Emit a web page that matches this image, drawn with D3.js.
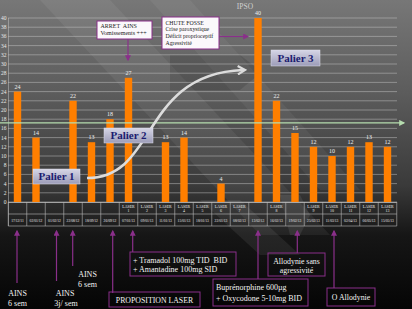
<!DOCTYPE html>
<html><head><meta charset="utf-8">
<script src="https://cdn.jsdelivr.net/npm/d3@7"></script>
<style>html,body{margin:0;padding:0;background:#000;}svg{display:block;}text{white-space:pre;}</style>
</head><body>
<svg id="c" width="412" height="309"></svg>
<script>
// ---- data ----
const dates = ["17/12/11","02/01/12","01/02/12","22/08/12","18/09/12","26/09/12","07/01/13","09/01/13","11/01/13","15/01/13","18/01/13","22/01/13","08/02/13","13/02/13","16/02/13","19/02/13","25/02/13","11/03/13","02/04/13","06/05/13","15/05/13"];
const laserNums = ["","","","","","","1","2","3","4","5","6","7","","8","","9","10","11","12","13"];
const values = [24,14,null,22,13,18,27,null,13,14,null,4,null,40,22,15,12,10,12,13,12];
const yTicks = d3.range(0,41,2);
const threshold = 17.2;
const title = "IPSO";
const paliers = ["Palier 1","Palier 2","Palier 3"];

const svg = d3.select("#c");
const W=412,H=309;
const defs = svg.append("defs");
const bg = defs.append("linearGradient").attr("id","bg").attr("x1",0).attr("y1",0).attr("x2",0).attr("y2",1);
[[0,"#777777"],[0.3,"#5c5c5c"],[0.6,"#3a3a3a"],[0.76,"#161616"],[1,"#050505"]].forEach(s=>bg.append("stop").attr("offset",s[0]).attr("stop-color",s[1]));
const pg = defs.append("linearGradient").attr("id","pal").attr("x1",0).attr("y1",0).attr("x2",0).attr("y2",1);
[[0,"#d6d6e6"],[1,"#9c9cb8"]].forEach(s=>pg.append("stop").attr("offset",s[0]).attr("stop-color",s[1]));
defs.append("marker").attr("id","ap").attr("viewBox","0 0 10 10").attr("refX",8).attr("refY",5)
  .attr("markerWidth",5).attr("markerHeight",5).attr("orient","auto-start-reverse")
  .append("path").attr("d","M0,0L10,5L0,10z").attr("fill","#8a2f8a");
defs.append("marker").attr("id","ag").attr("viewBox","0 0 10 10").attr("refX",8).attr("refY",5)
  .attr("markerWidth",5).attr("markerHeight",5).attr("orient","auto")
  .append("path").attr("d","M0,0L10,5L0,10z").attr("fill","#b5dcae");
defs.append("marker").attr("id","aw").attr("viewBox","0 0 10 10").attr("refX",6).attr("refY",5)
  .attr("markerWidth",4).attr("markerHeight",4).attr("orient","auto")
  .append("path").attr("d","M1,1L8,5L1,9").attr("fill","none").attr("stroke","#dcdcdc").attr("stroke-width",2.2);

svg.append("rect").attr("width",W).attr("height",H).attr("fill","url(#bg)");
// diagonal decorative bands
const deco = svg.append("g");
deco.append("path").attr("d","M40,0L110,0L330,235L260,235Z").attr("fill","#fff").attr("opacity",0.06);
deco.append("path").attr("d","M150,0L190,0L360,190L320,190Z").attr("fill","#fff").attr("opacity",0.05);
deco.append("path").attr("d","M170,55L240,55L262,72L240,90L170,90Z").attr("fill","#000").attr("opacity",0.12);
deco.append("path").attr("d","M200,200L240,200L300,255L260,255Z").attr("fill","#fff").attr("opacity",0.07);
deco.append("path").attr("d","M280,195L300,195L310,215L300,235L290,235Z").attr("fill","#fff").attr("opacity",0.08);

const x = d3.scaleBand().domain(dates).range([8.25,396.75]).paddingInner(0.6).paddingOuter(0.3);
const xc = d3.scaleBand().domain(dates).range([8.25,396.75]);
const y = d3.scaleLinear().domain([0,40]).range([202,18]);

// grid
svg.append("g").selectAll("line").data(yTicks).join("line")
  .attr("x1",8).attr("x2",397).attr("y1",d=>y(d)).attr("y2",d=>y(d))
  .attr("stroke","#c8c8c8").attr("stroke-opacity",0.6).attr("stroke-width",0.8);
svg.append("line").attr("x1",8.5).attr("x2",8.5).attr("y1",y(40)).attr("y2",226).attr("stroke","#c8c8c8").attr("stroke-opacity",0.6).attr("stroke-width",0.8);
svg.append("g").selectAll("text").data(yTicks).join("text")
  .attr("x",6.5).attr("y",d=>y(d)+2).attr("text-anchor","end")
  .attr("font-family","Liberation Serif").attr("font-size",5.5).attr("fill","#e8e8e8").text(d=>d);

// title
svg.append("text").attr("x",245).attr("y",9).attr("text-anchor","middle").attr("font-family","Liberation Serif")
  .attr("font-size",7.5).attr("fill","#d0d0d0").text(title);

// bars
const bd = dates.map((d,i)=>({d,v:values[i]})).filter(o=>o.v!==null);
svg.append("g").selectAll("rect").data(bd).join("rect")
  .attr("x",o=>x(o.d)).attr("width",x.bandwidth()).attr("y",o=>y(o.v)).attr("height",o=>y(0)-y(o.v))
  .attr("fill","#ff7f00");
svg.append("g").selectAll("text").data(bd).join("text")
  .attr("x",o=>x(o.d)+x.bandwidth()/2).attr("y",o=>y(o.v)-3).attr("text-anchor","middle")
  .attr("font-family","Liberation Serif").attr("font-size",6).attr("fill","#eeeeee").text(o=>o.v);

// threshold line
svg.append("line").attr("x1",0).attr("x2",404).attr("y1",y(threshold)).attr("y2",y(threshold))
  .attr("stroke","#b5dcae").attr("stroke-width",1.2).attr("marker-end","url(#ag)");

// table
const tb = svg.append("g");
tb.append("line").attr("x1",8.25).attr("x2",396.75).attr("y1",y(0)+0.5).attr("y2",y(0)+0.5).attr("stroke","#bbb").attr("stroke-width",0.8);
tb.append("line").attr("x1",8.25).attr("x2",396.75).attr("y1",214).attr("y2",214).attr("stroke","#bbb").attr("stroke-width",0.6);
tb.append("line").attr("x1",8.25).attr("x2",396.75).attr("y1",226).attr("y2",226).attr("stroke","#bbb").attr("stroke-width",0.6);
tb.selectAll("line.v").data(dates.concat(["end"])).join("line").attr("class","v")
  .attr("x1",(d,i)=>8.25+i*xc.step()).attr("x2",(d,i)=>8.25+i*xc.step()).attr("y1",202).attr("y2",226)
  .attr("stroke","#bbb").attr("stroke-width",0.6);
tb.selectAll("text.l1").data(dates).join("text").attr("class","l1")
  .attr("x",d=>xc(d)+xc.bandwidth()/2).attr("y",207.5).attr("text-anchor","middle")
  .attr("font-family","Liberation Serif").attr("font-size",3.9).attr("fill","#f0f0f0")
  .text((d,i)=>laserNums[i]?"LASER":"");
tb.selectAll("text.l2").data(dates).join("text").attr("class","l2")
  .attr("x",d=>xc(d)+xc.bandwidth()/2).attr("y",212).attr("text-anchor","middle")
  .attr("font-family","Liberation Serif").attr("font-size",3.9).attr("fill","#f0f0f0")
  .text((d,i)=>laserNums[i]);
tb.selectAll("text.l3").data(dates).join("text").attr("class","l3")
  .attr("x",d=>xc(d)+xc.bandwidth()/2).attr("y",221.5).attr("text-anchor","middle")
  .attr("font-family","Liberation Serif").attr("font-size",3.6).attr("fill","#f0f0f0")
  .text(d=>d);

// curved arrow
svg.append("path").attr("d","M87,178 C158,178 140,74 243,70").attr("fill","none")
  .attr("stroke","#dcdcdc").attr("stroke-width",2.6).attr("marker-end","url(#aw)");

// palier boxes
const pal = [{t:paliers[0],x:33,y:169,w:47,h:15},{t:paliers[1],x:104,y:128,w:49,h:15},{t:paliers[2],x:271,y:50,w:49,h:16}];
const pgrp = svg.append("g").selectAll("g").data(pal).join("g");
pgrp.append("rect").attr("x",d=>d.x).attr("y",d=>d.y).attr("width",d=>d.w).attr("height",d=>d.h)
  .attr("fill","url(#pal)").attr("stroke","#e0e0ec").attr("stroke-width",0.5);
pgrp.append("text").attr("x",d=>d.x+d.w/2).attr("y",d=>d.y+d.h/2+3.8).attr("text-anchor","middle")
  .attr("font-family","Liberation Serif").attr("font-weight","bold").attr("font-size",11).attr("fill","#1b1b70").text(d=>d.t);

// annotation boxes
const purple = "#8a2f8a";
function box(x0,y0,w,h,lines,opt){
  const g = svg.append("g");
  g.append("rect").attr("x",x0).attr("y",y0).attr("width",w).attr("height",h)
    .attr("fill",opt.fill).attr("stroke",purple).attr("stroke-width",opt.sw||1);
  lines.forEach((l,i)=>g.append("text").attr("x",opt.anchor==="middle"?x0+w/2:x0+opt.pad)
    .attr("y",opt.y0+i*opt.lh).attr("text-anchor",opt.anchor||"start")
    .attr("font-family","Liberation Serif").attr("font-size",opt.fs).attr("fill",opt.color).text(l));
}
function arrow(x1,y1,x2,y2){
  svg.append("line").attr("x1",x1).attr("y1",y1).attr("x2",x2).attr("y2",y2)
    .attr("stroke",purple).attr("stroke-width",1.2).attr("marker-end","url(#ap)");
}
box(97,21,55,18,["ARRET\u00a0 AINS","Vomissements +++"],{fill:"#fbf8fb",color:"#222",fs:6,pad:3.5,y0:28,lh:7.2});
arrow(128,39,128,60);
box(162,17,57,32,["CHUTE FOSSE","Crise paroxystique","Déficit proprioceptif","Agressivité"],{fill:"#fbf8fb",color:"#222",fs:5.8,pad:3.5,y0:24.5,lh:6.9});
arrow(219,36.5,248,36.5);

// bottom annotations
const wf = "Liberation Serif";
function txt(x0,y0,s,fs,anchor){svg.append("text").attr("x",x0).attr("y",y0).attr("text-anchor",anchor||"middle")
  .attr("font-family",wf).attr("font-size",fs).attr("fill","#f4f4f4").text(s);}
arrow(17,283,17,231);
txt(17.5,296,"AINS",8); txt(17.5,306,"6 sem",8);
arrow(56.5,281,56.5,231);
txt(65,296,"AINS",8); txt(66,306,"3j/ sem",8);
arrow(72.7,266,72.7,231);
txt(87.5,277,"AINS",8); txt(87.5,287,"6 sem",8);
arrow(112.7,293,112.7,231);
box(109,292,91,15,["PROPOSITION LASER"],{fill:"none",color:"#f4f4f4",fs:7.8,pad:0,anchor:"middle",y0:303,lh:0});
arrow(132.7,252,132.7,231);
box(130,252,106,24,["+ Tramadol 100mg TID\u00a0 BID","+ Amantadine 100mg SID"],{fill:"none",color:"#f4f4f4",fs:8,pad:3,y0:263,lh:9});
arrow(258,279,258,231);
box(213,279,95,27,["Buprénorphine 600µg","+ Oxycodone 5-10mg BID"],{fill:"none",color:"#f4f4f4",fs:8,pad:3,y0:290,lh:10.5});
arrow(297.3,253,297.3,231);
box(268,253,57,23,["Allodynie sans","agressivité"],{fill:"none",color:"#f4f4f4",fs:7.8,pad:0,anchor:"middle",y0:263.5,lh:9});
arrow(334,288,334,231);
box(327,288,48,18,["O Allodynie"],{fill:"none",color:"#f4f4f4",fs:7.8,pad:0,anchor:"middle",y0:300,lh:0});
</script>
</body></html>
